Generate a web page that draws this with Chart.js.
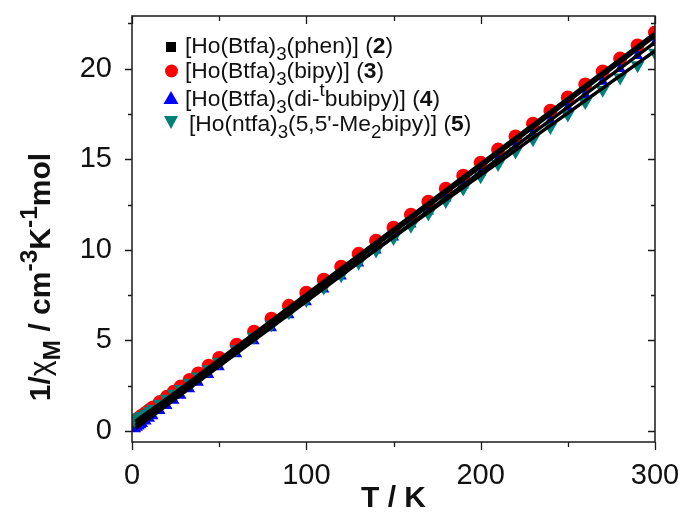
<!DOCTYPE html>
<html>
<head>
<meta charset="utf-8">
<script src="https://cdn.jsdelivr.net/npm/chart.js@4.4.0/dist/chart.umd.min.js"></script>
<style>
  html, body { margin: 0; padding: 0; background: #fff; }
</style>
</head>
<body>
<canvas id="chart" width="683" height="512"></canvas>
<script>
// temperatures (K)
const temps = [2, 3, 4, 5, 6, 8, 10, 12, 16, 20, 24, 28, 33, 38, 44, 50,
  60, 70, 80, 90, 100, 110, 120, 130, 140, 150, 160, 170, 180, 190, 200,
  210, 220, 230, 240, 250, 260, 270, 280, 290, 300];

// 1/chi_M for each complex
const inv2 = [0.44, 0.52, 0.59, 0.66, 0.73, 0.87, 1.02, 1.16, 1.45, 1.73, 2.02, 2.31, 2.66, 3.02, 3.45, 3.89,
  4.60, 5.32, 6.04, 6.75, 7.47, 8.19, 8.90, 9.62, 10.34, 11.06, 11.77, 12.49, 13.21, 13.92, 14.64,
  15.36, 16.07, 16.79, 17.51, 18.23, 18.94, 19.66, 20.38, 21.09, 21.81];
const inv3 = [0.58, 0.66, 0.73, 0.80, 0.88, 1.02, 1.17, 1.31, 1.60, 1.89, 2.17, 2.46, 2.82, 3.18, 3.61, 4.04,
  4.76, 5.48, 6.20, 6.91, 7.63, 8.35, 9.07, 9.78, 10.50, 11.22, 11.94, 12.66, 13.37, 14.09, 14.81,
  15.53, 16.25, 16.96, 17.68, 18.40, 19.12, 19.84, 20.55, 21.27, 21.99];
const inv4 = [0.12, 0.20, 0.27, 0.34, 0.41, 0.55, 0.69, 0.83, 1.12, 1.40, 1.69, 1.97, 2.33, 2.68, 3.11, 3.54,
  4.26, 4.97, 5.69, 6.40, 7.12, 7.83, 8.55, 9.26, 9.98, 10.70, 11.41, 12.13, 12.84, 13.56, 14.27,
  14.99, 15.70, 16.42, 17.13, 17.85, 18.56, 19.28, 19.99, 20.71, 21.42];
const inv5 = [0.55, 0.62, 0.69, 0.76, 0.83, 0.96, 1.10, 1.24, 1.51, 1.78, 2.06, 2.33, 2.67, 3.01, 3.42, 3.83,
  4.52, 5.20, 5.88, 6.56, 7.24, 7.92, 8.60, 9.29, 9.97, 10.65, 11.33, 12.01, 12.69, 13.38, 14.06,
  14.74, 15.42, 16.10, 16.78, 17.47, 18.15, 18.83, 19.51, 20.19, 20.87];

// Curie-Weiss fit lines (end points)
const fitT = [2, 300];
const fit2 = [0.32, 21.80];
const fit3 = [0.48, 21.95];
const fit4 = [0.15, 21.45];
const fit5 = [0.55, 20.98];

const xTicks = [0, 100, 200, 300];
const xMinor = [50, 150, 250];
const yTicks = [0, 5, 10, 15, 20];
const yMinor = [2.5, 7.5, 12.5, 17.5, 22.5];

const FONT = '"Liberation Sans", Arial, sans-serif';

function pts(xs, ys) {
  return xs.map((x, i) => ({ x: x, y: ys[i] }));
}

function fitLine(ys) {
  return {
    data: pts(fitT, ys), showLine: true, pointRadius: 0,
    borderColor: '#000', borderWidth: 3.5, order: 0
  };
}

// draws a run of text pieces with sub/superscripts and bold parts
function drawRuns(ctx, x, y, runs, size, bold, measureOnly) {
  let w = 0;
  runs.forEach(r => {
    const small = r.sub || r.sup;
    const s = small ? size * 0.82 : size;
    ctx.font = ((r.b || bold) && !r.plain ? 'bold ' : '') + s + 'px ' + FONT;
    const dy = r.sub ? size * 0.32 : r.sup ? -size * 0.45 : 0;
    if (!measureOnly) ctx.fillText(r.t, x + w, y + dy);
    w += ctx.measureText(r.t).width;
  });
  return w;
}

const legendRows = [
  { y: 53, runs: [{ t: '[Ho(Btfa)' }, { t: '3', sub: 1 }, { t: '(phen)] (' }, { t: '2', b: 1 }, { t: ')' }] },
  { y: 78, runs: [{ t: '[Ho(Btfa)' }, { t: '3', sub: 1 }, { t: '(bipy)] (' }, { t: '3', b: 1 }, { t: ')' }] },
  { y: 106, runs: [{ t: '[Ho(Btfa)' }, { t: '3', sub: 1 }, { t: '(di-' }, { t: 't', sup: 1 }, { t: 'bubipy)] (' }, { t: '4', b: 1 }, { t: ')' }] },
  { y: 131, runs: [{ t: '[Ho(ntfa)' }, { t: '3', sub: 1 }, { t: '(5,5\'-Me' }, { t: '2', sub: 1 }, { t: 'bipy)] (' }, { t: '5', b: 1 }, { t: ')' }] }
];

const decorations = {
  id: 'decorations',
  afterDraw(chart) {
    const ctx = chart.ctx;
    const a = chart.chartArea;
    const xs = chart.scales.x, ys = chart.scales.y;
    ctx.save();
    ctx.strokeStyle = '#1a1a1a';
    ctx.lineWidth = 1.5;
    ctx.strokeRect(a.left, a.top, a.right - a.left, a.bottom - a.top);

    ctx.lineWidth = 1.3;
    ctx.beginPath();
    const xt = (v, len) => {
      const p = Math.round(xs.getPixelForValue(v)) + 0.5;
      ctx.moveTo(p, a.bottom); ctx.lineTo(p, a.bottom + len);
      ctx.moveTo(p, a.top); ctx.lineTo(p, a.top + len);
    };
    const yt = (v, len) => {
      const p = Math.round(ys.getPixelForValue(v)) + 0.5;
      ctx.moveTo(a.left, p); ctx.lineTo(a.left - len, p);
      ctx.moveTo(a.right, p); ctx.lineTo(a.right - len, p);
    };
    xTicks.forEach(v => xt(v, 8));
    xMinor.forEach(v => xt(v, 5));
    yTicks.forEach(v => yt(v, 7));
    yMinor.forEach(v => yt(v, 4));
    ctx.stroke();

    // legend markers
    ctx.fillStyle = '#000';
    ctx.fillRect(166, 42, 10, 10);
    ctx.fillStyle = '#ff0000';
    ctx.beginPath(); ctx.arc(171.5, 71, 6.5, 0, Math.PI * 2); ctx.fill();
    ctx.fillStyle = '#0000ff';
    ctx.beginPath(); ctx.moveTo(171, 91); ctx.lineTo(178.5, 104); ctx.lineTo(163.5, 104); ctx.closePath(); ctx.fill();
    ctx.fillStyle = '#008078';
    ctx.beginPath(); ctx.moveTo(164, 116); ctx.lineTo(178, 116); ctx.lineTo(171, 129); ctx.closePath(); ctx.fill();

    // legend text
    ctx.fillStyle = '#111';
    ctx.textBaseline = 'alphabetic';
    ctx.textAlign = 'left';
    legendRows.forEach((row, i) => drawRuns(ctx, i === 3 ? 189 : 185, row.y, row.runs, 22.8, false));

    // x title
    const xTitle = [{ t: 'T / K' }];
    const wx = drawRuns(ctx, 0, 0, xTitle, 30, true, true);
    drawRuns(ctx, (a.left + a.right) / 2 - wx / 2, 507, xTitle, 30, true);

    // y title
    const yTitle = [{ t: '1/' }, { t: 'χ', plain: 1 }, { t: 'M', sub: 1 }, { t: ' / cm' }, { t: '-3', sup: 1 },
      { t: 'K' }, { t: '-1', sup: 1 }, { t: 'mol' }];
    const wy = drawRuns(ctx, 0, 0, yTitle, 30, true, true);
    ctx.translate(50, 277);
    ctx.rotate(-Math.PI / 2);
    drawRuns(ctx, -wy / 2, 0, yTitle, 30, true);
    ctx.restore();
  }
};

const tickFont = { family: FONT, size: 29 };

function noPad(s) {
  s.paddingLeft = 0; s.paddingRight = 0; s.paddingTop = 0; s.paddingBottom = 0;
}

new Chart(document.getElementById('chart'), {
  type: 'scatter',
  data: {
    datasets: [
      fitLine(fit2), fitLine(fit3), fitLine(fit4), fitLine(fit5),
      { data: pts(temps, inv5), pointStyle: 'triangle', rotation: 180, pointRadius: 8,
        backgroundColor: '#008078', borderColor: '#008078', borderWidth: 0, order: 1 },
      { data: pts(temps, inv4), pointStyle: 'triangle', pointRadius: 6.5,
        backgroundColor: '#0000ff', borderColor: '#0000ff', borderWidth: 0, order: 2 },
      { data: pts(temps, inv3), pointStyle: 'circle', pointRadius: 7,
        backgroundColor: '#ff0000', borderColor: '#ff0000', borderWidth: 0, order: 3 },
      { data: pts(temps, inv2), pointStyle: 'rect', pointRadius: 6.4,
        backgroundColor: '#000', borderColor: '#000', borderWidth: 0, order: 4 }
    ]
  },
  options: {
    responsive: false,
    animation: false,
    devicePixelRatio: 1,
    layout: { padding: { top: 16, right: 28, left: 0, bottom: 0 } },
    plugins: { legend: { display: false }, tooltip: { enabled: false } },
    scales: {
      x: {
        type: 'linear', min: 0, max: 300,
        afterBuildTicks: s => { s.ticks = xTicks.map(v => ({ value: v })); },
        afterFit: s => { s.height = 70; noPad(s); },
        grid: { display: false }, border: { display: false },
        ticks: { padding: 9, font: tickFont, color: '#111', maxRotation: 0, autoSkip: false }
      },
      y: {
        type: 'linear', min: -0.6, max: 22.9,
        afterBuildTicks: s => { s.ticks = yTicks.map(v => ({ value: v })); },
        afterFit: s => { s.width = 132; noPad(s); },
        grid: { display: false }, border: { display: false },
        ticks: { padding: 12, font: tickFont, color: '#111', autoSkip: false }
      }
    }
  },
  plugins: [decorations]
});
</script>
</body>
</html>
